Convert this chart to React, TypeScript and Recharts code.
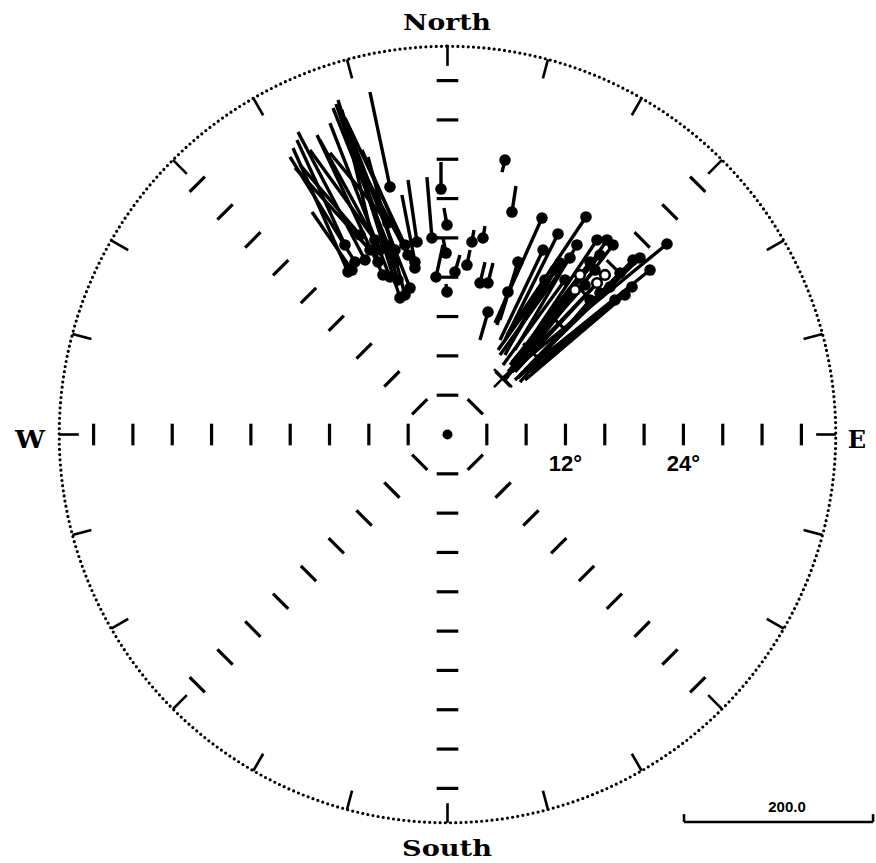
import { ScatterChart, Scatter, XAxis, YAxis, ReferenceLine, ReferenceDot } from 'recharts'

const WIDTH = 876
const HEIGHT = 863

// plot frame, degrees from nadir (east / north)
const X_DOMAIN: [number, number] = [-45.52, 43.59]
const Y_DOMAIN: [number, number] = [-43.59, 44.2]
const RIM = 39.5
const RING_STEPS = [4, 8, 12, 16, 20, 24, 28, 32, 36]
const SPOKE_AZIMUTHS = [0, 45, 90, 135, 180, 225, 270, 315]
const RIM_TICK_AZIMUTHS = [0, 15, 30, 45, 60, 75, 90, 105, 120, 135, 150, 165, 180, 195, 210, 225, 240, 255, 270, 285, 300, 315, 330, 345]
const AXIS_LABELS = ['12°', '24°']
const AXIS_LABEL_AT = [12, 24]

// dot position of each vector, degrees east / north of nadir
const dotEast = [
  -10.12, -9.41, -8.39, -7.88, -9.72, -6.56, -6.05, -5.85, -4.83, -5.34, -3.81, -4.32, -3.31, -5.85, -3.1, -1.58, -3.31, -4.32, -6.87, -7.38, -8.9, -5.34,
  -0.66, -0.05, -0.15, -1.17, -0.05, 0.76, 1.98, 2.49, 3.61, 3.31, 4.12, 5.85, 6.56, 4.12,
  9.61, 14.09, 11.24, 9.72, 7.17, 6.15, 11.44, 13.17, 15.21, 16.23, 16.84, 15.51, 14.5, 18.87, 19.58, 20.6, 22.33, 17.55, 16.53, 17.04,
  18.77, 15.21, 15.51, 13.48, 12.97, 18.06, 16.02, 14.5, 12.46, 10.94, 9.92,
  -6.36, -7.07, -10.43, -5.04, -4.02, 15.01, 13.99, 11.95,
]
const dotNorth = [
  16.53, 17.55, 17.75, 18.77, 16.73, 16.23, 21.52, 16.02, 13.89, 17.55, 14.9, 19.28, 16.94, 25.18, 19.58, 19.99, 17.55, 14.19, 18.77, 19.79, 20.3, 18.77,
  24.97, 21.31, 18.46, 16.02, 14.5, 16.53, 17.24, 19.58, 19.99, 15.41, 15.41, 27.92, 22.63, 12.46,
  22.02, 22.13, 20.4, 18.77, 17.55, 14.5, 17.45, 19.28, 19.79, 19.79, 19.28, 18.26, 17.55, 17.75, 17.96, 16.73, 19.38, 16.43, 15.01, 13.68,
  15.01, 15.41, 14.39, 16.23, 14.7, 14.19, 16.23, 13.68, 17.96, 16.73, 15.72,
  19.28, 17.55, 19.28, 15.72, 18.26, 16.73, 15.21, 15.72,
]
// residual drawn from the dot, in scale bar units (east / north)
const resEast = [
  -58.2, -68.8, -70.9, -79.4, -42.3, -69.8, -61.4, -63.5, -65.6, -65.6, -74.1, -63.5, -66.7, -21.2, -9.5, -5.3, -13.8, -39.1, -63.5, -68.8, -63.5, -56.1,
  0, -3.2, -3.2, 7.4, -1.1, 5.3, 3.2, 2.1, 2.1, 5.3, 5.3, -3.2, 4.2, -8.5,
  -49.7, -83.6, -56.1, -45.5, -19.0, -11.6, -52.9, -65.6, -81.5, -86.8, -98.4, -89.9, -84.6, -109.0, -111.1, -137.5, -173.5, -100.5, -100.5, -100.5,
  -107.9, -89.9, -86.8, -74.1, -74.1, -105.8, -95.2, -74.1, -74.1, -60.3, -42.3,
  -51.8, -38.1, -50.8, -57.1, -48.7, -87.8, -81.5, -65.6,
]
const resNorth = [
  131.2, 111.1, 135.4, 86.8, 61.4, 148.1, 74.1, 162.9, 209.5, 162.9, 188.3, 134.4, 124.8, 100.5, 65.6, 64.5, 70.9, 146.0, 116.4, 95.2, 74.1, 146.0,
  28.6, 18.0, 15.9, 33.9, 8.5, 18.0, 15.9, 12.7, 12.7, 22.2, 21.2, -12.7, 27.5, -29.6,
  -111.1, -124.8, -112.1, -95.2, -61.4, -34.9, -86.8, -111.1, -121.7, -127.0, -127.0, -111.1, -109.0, -111.1, -107.9, -111.1, -141.8, -102.6, -98.4, -79.4,
  -89.9, -94.2, -89.9, -100.5, -95.2, -89.9, -102.6, -86.8, -102.6, -84.6, -79.4,
  149.2, 160.8, 111.1, 171.4, 111.1, -97.3, -92.0, -89.9,
]
const hollowDots = [57, 59, 60, 62]
const crossTails = [52]

// scale bar: 200.0 units
const SCALE_VALUE = 200
const SCALE_DEG = 19.23
const SCALE_START = { x: 24.06, y: -39.42 }

const DEG = Math.PI / 180
const polar = (r: number, az: number) => ({ x: r * Math.sin(az * DEG), y: r * Math.cos(az * DEG) })
const k = SCALE_DEG / SCALE_VALUE

const rimPoints = Array.from({ length: 181 }, (_, i) => polar(RIM, i * 2))

const ringDashes = SPOKE_AZIMUTHS.flatMap((az) =>
  RING_STEPS.map((r) => {
    const c = polar(r, az)
    const tx = Math.cos(az * DEG) * 1.1
    const ty = -Math.sin(az * DEG) * 1.1
    return [{ x: c.x - tx, y: c.y - ty }, { x: c.x + tx, y: c.y + ty }]
  })
)

const rimTicks = RIM_TICK_AZIMUTHS.map((az) => [polar(RIM, az), polar(RIM - 2, az)])

const vectors = dotEast.map((x, i) => ({
  x,
  y: dotNorth[i],
  tx: x + resEast[i] * k,
  ty: dotNorth[i] + resNorth[i] * k,
  hollow: hollowDots.includes(i),
}))

const crosses = crossTails.map((i) => ({ x: vectors[i].tx, y: vectors[i].ty }))

function Dot(props: any) {
  const { cx, cy, payload } = props
  if (payload.hollow) {
    return <circle cx={cx} cy={cy} r={4.8} fill="#fff" stroke="#000" strokeWidth={2.6} />
  }
  return <circle cx={cx} cy={cy} r={5.8} fill="#000" />
}

function Cross(props: any) {
  const { cx, cy } = props
  return (
    <g stroke="#000" strokeWidth={2.5}>
      <line x1={cx - 9} y1={cy - 9} x2={cx + 9} y2={cy + 9} />
      <line x1={cx - 9} y1={cy + 9} x2={cx + 9} y2={cy - 9} />
    </g>
  )
}

const serif = "'DejaVu Serif', 'Liberation Serif', serif"
const sans = "'Liberation Sans', Arial, sans-serif"

export default function App() {
  return (
    <div style={{ position: 'absolute', left: 0, top: 0, width: WIDTH, height: HEIGHT, background: '#fff' }}>
      <ScatterChart width={WIDTH} height={HEIGHT} margin={{ top: 0, right: 0, bottom: 0, left: 0 }}>
        <XAxis type="number" dataKey="x" domain={X_DOMAIN} allowDataOverflow hide />
        <YAxis type="number" dataKey="y" domain={Y_DOMAIN} allowDataOverflow hide />

        {ringDashes.map((seg, i) => (
          <ReferenceLine key={`ring-${i}`} segment={seg} stroke="#000" strokeWidth={3.2} ifOverflow="visible" />
        ))}
        {rimTicks.map((seg, i) => (
          <ReferenceLine key={`tick-${i}`} segment={seg} stroke="#000" strokeWidth={2.6} ifOverflow="visible" />
        ))}
        {vectors.map((v, i) => (
          <ReferenceLine
            key={`vec-${i}`}
            segment={[{ x: v.x, y: v.y }, { x: v.tx, y: v.ty }]}
            stroke="#000"
            strokeWidth={3.4}
            ifOverflow="visible"
          />
        ))}

        {/* scale bar */}
        <ReferenceLine
          segment={[SCALE_START, { x: SCALE_START.x + SCALE_VALUE * k, y: SCALE_START.y }]}
          stroke="#000"
          strokeWidth={2.6}
          ifOverflow="visible"
        />
        <ReferenceLine
          segment={[SCALE_START, { x: SCALE_START.x, y: SCALE_START.y + 0.8 }]}
          stroke="#000"
          strokeWidth={2.6}
          ifOverflow="visible"
        />
        <ReferenceLine
          segment={[
            { x: SCALE_START.x + SCALE_VALUE * k, y: SCALE_START.y },
            { x: SCALE_START.x + SCALE_VALUE * k, y: SCALE_START.y + 0.8 },
          ]}
          stroke="#000"
          strokeWidth={2.6}
          ifOverflow="visible"
        />

        <Scatter
          data={rimPoints}
          fill="#000"
          line={{ stroke: '#000', strokeWidth: 3.2, strokeDasharray: '0 5.2', strokeLinecap: 'round' }}
          lineType="joint"
          shape={() => <g />}
          isAnimationActive={false}
        />
        <Scatter data={vectors} shape={<Dot />} isAnimationActive={false} />
        <Scatter data={crosses} shape={<Cross />} isAnimationActive={false} />

        <ReferenceDot x={0} y={0} r={5} fill="#000" stroke="none" ifOverflow="visible" />
        {AXIS_LABELS.map((t, i) => (
          <ReferenceDot
            key={t}
            x={AXIS_LABEL_AT[i]}
            y={-2.9}
            r={0}
            ifOverflow="visible"
            label={{ value: t, position: 'center', fill: '#000', fontSize: 22, fontWeight: 'bold', fontFamily: sans }}
          />
        ))}
      </ScatterChart>

      <svg width={WIDTH} height={HEIGHT} style={{ position: 'absolute', left: 0, top: 0, pointerEvents: 'none' }}>
        <text x={447} y={30} textAnchor="middle" fontFamily={serif} fontWeight="bold" fontSize={22} textLength={88} lengthAdjust="spacingAndGlyphs">
          North
        </text>
        <text x={447} y={856} textAnchor="middle" fontFamily={serif} fontWeight="bold" fontSize={22} textLength={90} lengthAdjust="spacingAndGlyphs">
          South
        </text>
        <text x={30} y={448} textAnchor="middle" fontFamily={serif} fontWeight="bold" fontSize={24} textLength={30} lengthAdjust="spacingAndGlyphs">
          W
        </text>
        <text x={857} y={448} textAnchor="middle" fontFamily={serif} fontWeight="bold" fontSize={24}>
          E
        </text>
        <text x={787} y={812} textAnchor="middle" fontFamily={sans} fontWeight="bold" fontSize={15}>
          200.0
        </text>
      </svg>
    </div>
  )
}
